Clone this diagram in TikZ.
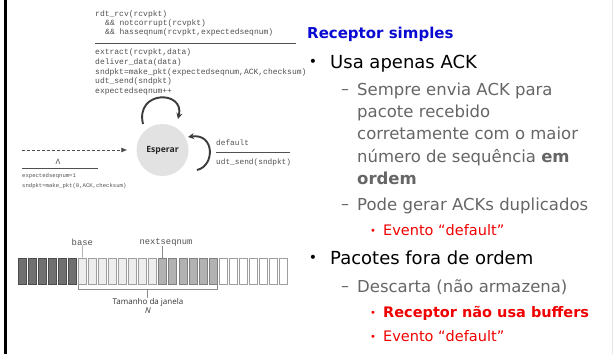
\documentclass[tikz,border=0pt]{standalone}
\usepackage{fontspec}
\setmainfont{DejaVu Sans}
\newfontfamily\monof{Liberation Mono}
\newfontfamily\osans{Open Sans}
\usetikzlibrary{arrows.meta,calc}
\definecolor{codegray}{HTML}{505050}
\definecolor{txtgray}{HTML}{666666}
\definecolor{hblue}{HTML}{0A0AD2}
\definecolor{hred}{HTML}{F00000}
\definecolor{loopgray}{HTML}{3C3C3C}
\definecolor{stategray}{HTML}{E2E2E2}
\tikzset{
  code/.style={anchor=west, inner sep=0pt, font=\monof\fontsize{8}{9}\selectfont, text=codegray},
  smallcode/.style={anchor=west, inner sep=0pt, font=\monof\fontsize{5.6}{6.5}\selectfont, text=codegray},
  guard/.style={draw=codegray, line width=0.6pt},
  head/.style={anchor=base west, inner sep=0pt, font=\bfseries\fontsize{15}{17}\selectfont, text=hblue},
  lvlone/.style={anchor=base west, inner sep=0pt, font=\fontsize{18}{20}\selectfont, text=black},
  lvltwo/.style={anchor=base west, inner sep=0pt, font=\fontsize{16.5}{18}\selectfont, text=txtgray},
  lvlthree/.style={anchor=base west, inner sep=0pt, font=\fontsize{14.5}{16}\selectfont, text=hred},
  bulone/.style={anchor=base, inner sep=0pt, font=\fontsize{14}{16}\selectfont, text=black},
  dashtwo/.style={anchor=base, inner sep=0pt, font=\fontsize{16}{18}\selectfont, text=txtgray},
  bulthree/.style={anchor=base, inner sep=0pt, font=\fontsize{10}{12}\selectfont, text=hred},
  loopline/.style={draw=loopgray, line width=1.9pt, -{Stealth[length=6pt,width=6pt]}},
  pbox/.style={draw, line width=0.6pt, minimum width=8pt, minimum height=26pt, inner sep=0pt},
  darkbox/.style={pbox, fill=black!56, draw=black!70},
  lightbox/.style={pbox, fill=black!7, draw=black!38},
  midbox/.style={pbox, fill=black!30, draw=black!50},
  whitebox/.style={pbox, fill=white, draw=black!38},
  winlabel/.style={inner sep=0pt, font=\osans\fontsize{8}{9}\selectfont, text=black!80},
  ptrlabel/.style={inner sep=0pt, font=\monof\fontsize{8.8}{10}\selectfont, text=codegray},
  tick/.style={draw=black!45, line width=0.6pt}
}
\begin{document}
\begin{tikzpicture}[x=1pt,y=-1pt]
\useasboundingbox (0,0) rectangle (613,354);
\fill[white] (0,0) rectangle (613,354);
\fill[black] (4,0) rectangle (7,354);
\draw[black!10, line width=0.8pt] (612.4,0) -- (612.4,354);

% ---------- FSM ----------
\node[code] (c1) at (95,14) {rdt\_rcv(rcvpkt)};
\node[code] (c2) at (105,23) {\&\& notcorrupt(rcvpkt)};
\node[code] (c3) at (105,32) {\&\& hasseqnum(rcvpkt,expectedseqnum)};
\coordinate (gl) at (95,43);
\coordinate (gr) at (296,43);
\draw[guard] (gl) -- (gr);
\node[code] (c4) at (95,52) {extract(rcvpkt,data)};
\node[code] (c5) at (95,62) {deliver\_data(data)};
\node[code] (c6) at (95,72) {sndpkt=make\_pkt(expectedseqnum,ACK,checksum)};
\node[code] (c7) at (95,81) {udt\_send(sndpkt)};
\node[code] (c8) at (95,91) {expectedseqnum++};

\node[circle, fill=stategray, minimum size=52pt, inner sep=0pt,
      font=\osans\bfseries\fontsize{8.6}{10}\selectfont, text=black!85] (esp) at (162.5,150) {Esperar};

\coordinate (ta) at (143,124);
\coordinate (tb) at (178,119);
\draw[loopline] (ta) .. controls (135,90) and (185,90) .. (tb);
\coordinate (ra) at (197,170);
\coordinate (rb) at (188,137);
\draw[loopline] (ra) .. controls (215,166) and (215,133) .. (rb);

\coordinate (ds) at (22,150);
\coordinate (de) at ($(esp.west)+(-9,0)$);
\draw[draw=black!70, line width=0.6pt, dash pattern=on 3pt off 2pt,
      -{Latex[length=6pt,width=5pt]}] (ds) -- (de);
\node[inner sep=0pt, font=\monof\fontsize{8}{9}\selectfont, text=codegray] (lam) at (58,162) {Λ};
\coordinate (ll) at (22,168);
\coordinate (lr) at (98,168);
\draw[guard] (ll) -- (lr);
\node[smallcode] (i1) at (22,176) {expectedseqnum=1};
\node[smallcode] (i2) at (22,186) {sndpkt=make\_pkt(0,ACK,checksum)};

\node[code, font=\monof\fontsize{7.8}{9}\selectfont] (d1) at (216,143) {default};
\coordinate (dl) at (216,152);
\coordinate (dr) at (290,152);
\draw[guard] (dl) -- (dr);
\node[code, font=\monof\fontsize{7.8}{9}\selectfont] (d2) at (216,162) {udt\_send(sndpkt)};

% ---------- window ----------
\foreach \i in {0,...,5} { \node[darkbox] (b\i) at (22+\i*10.05,271) {}; }
\foreach \i in {6,...,13} { \node[lightbox] (b\i) at (22+\i*10.05,271) {}; }
\foreach \i in {14,...,19} { \node[midbox] (b\i) at (22+\i*10.05,271) {}; }
\foreach \i in {20,...,26} { \node[whitebox] (b\i) at (22+\i*10.05,271) {}; }

\node[ptrlabel] (base) at (82.3,242) {base};
\draw[tick] (base.south) -- (b6.north);
\node[ptrlabel] (nsn) at (166,242) {nextseqnum};
\draw[tick] (b14.north |- nsn.south) -- (b14.north);

\coordinate (wl1) at ($(b6.south west)+(0,1)$);
\coordinate (wl2) at ($(b6.south west)+(0,5)$);
\coordinate (wr1) at ($(b19.south east)+(0,1)$);
\coordinate (wr2) at ($(b19.south east)+(0,5)$);
\coordinate (wm) at ($(wl2)!0.5!(wr2)$);
\draw[tick] (wl1) -- (wl2) -- (wr2) -- (wr1);
\node[winlabel] (tam) at (148,302) {Tamanho da janela};
\draw[tick] (wm) -- (wm |- tam.north);
\node[winlabel, font=\osans\itshape\fontsize{8}{9}\selectfont] (nn) at (148,311) {N};

% ---------- text ----------
\node[head] (h) at (307,38) {Receptor simples};

\node[bulone] (u1) at (313,66) {•};
\node[lvlone] (t1) at (330,68) {Usa apenas ACK};
\node[dashtwo] (u2) at (345,94) {–};
\node[lvltwo] (t2) at (357,95) {Sempre envia ACK para};
\node[lvltwo] (t3) at (357,117) {pacote recebido};
\node[lvltwo] (t4) at (357,139) {corretamente com o maior};
\node[lvltwo] (t5) at (357,162) {número de sequência \textbf{em}};
\node[lvltwo, font=\bfseries\fontsize{16.5}{18}\selectfont] (t6) at (357,184) {ordem};
\node[dashtwo] (u3) at (345,209) {–};
\node[lvltwo] (t7) at (357,210) {Pode gerar ACKs duplicados};
\node[bulthree] (u4) at (373,234) {•};
\node[lvlthree] (t8) at (383,235) {Evento “default”};

\node[bulone] (u5) at (313,262) {•};
\node[lvlone] (t9) at (330,264) {Pacotes fora de ordem};
\node[dashtwo] (u6) at (345,291) {–};
\node[lvltwo] (t10) at (357,292) {Descarta (não armazena)};
\node[bulthree] (u7) at (373,316) {•};
\node[lvlthree, font=\bfseries\fontsize{14.5}{16}\selectfont] (t11) at (383,317) {Receptor não usa buffers};
\node[bulthree] (u8) at (373,340) {•};
\node[lvlthree] (t12) at (383,341) {Evento “default”};
\end{tikzpicture}
\end{document}
